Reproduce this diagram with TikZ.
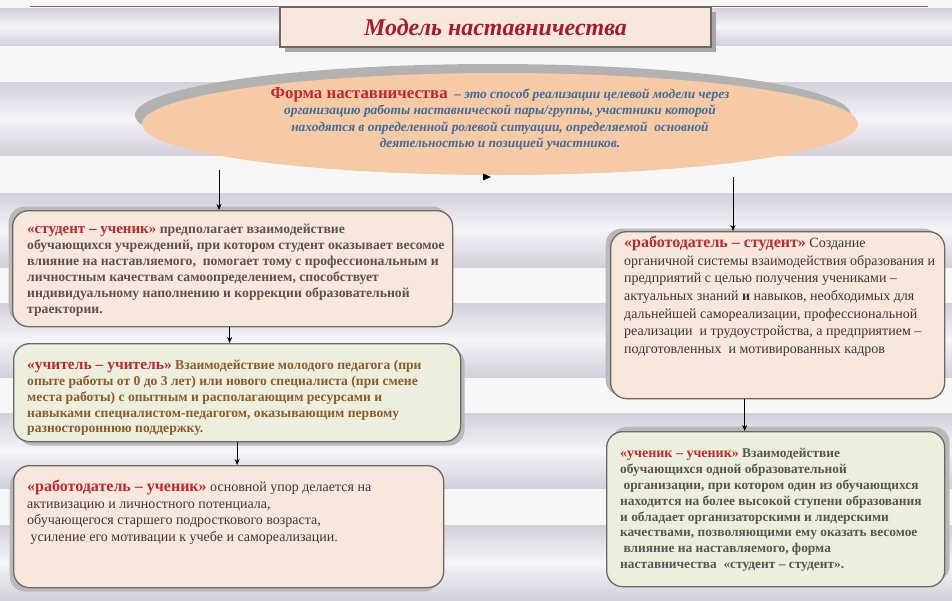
\documentclass[tikz,border=0pt]{standalone}
\usepackage{fontspec}
\setmainfont{Liberation Serif}
\usetikzlibrary{positioning,shadows,arrows.meta,shapes.geometric}

\definecolor{titlered}{HTML}{A61C2C}
\definecolor{keyred}{HTML}{C0282E}
\definecolor{boxpink}{HTML}{F8E7DC}
\definecolor{boxgreen}{HTML}{ECEFDD}
\definecolor{ovalpeach}{HTML}{F6CAA5}
\definecolor{formblue}{HTML}{3F6C9C}
\definecolor{frame}{HTML}{6E6863}
\definecolor{bandlav}{HTML}{D3CFDC}
\definecolor{bandlight}{HTML}{F5F4F8}
\definecolor{paper}{HTML}{F7F7F8}
\definecolor{textgrey}{HTML}{5B5352}
\definecolor{textbrown}{HTML}{8E5A2A}
\definecolor{textdark}{HTML}{3B3737}

\newcommand{\pair}[2][16]{{\color{keyred}\bfseries\fontsize{#1}{16.5}\selectfont #2}}

\tikzset{
  band/.style={top color=bandlav, bottom color=bandlav, middle color=bandlight},
  modelbox/.style={draw=frame, line width=1.3pt, rounded corners=16pt, inner sep=0pt, anchor=north west},
  boxtext/.style={align=left, inner sep=0pt, font=\fontsize{14}{16.5}\selectfont},
  arr/.style={-{Stealth[length=6pt,width=5pt]}, line width=0.8pt, black},
}

\begin{document}
\begin{tikzpicture}[x=1pt, y=-1pt]
    \useasboundingbox (0,0) rectangle (952,600);
    \fill[paper] (0,0) rectangle (952,600);

    % striped background
    \foreach \ytop/\ybot in {8/45, 82/155, 193/267, 303/377, 413/488, 525/600}
        \shade[band] (0,\ytop) rectangle (952,\ybot);
    \draw[color=titlered!30!gray, line width=1pt] (30,6) -- (928,6);

    % title
    \node[draw=frame, line width=1.2pt, fill=boxpink, minimum width=431pt, minimum height=40pt,
          drop shadow={shadow xshift=5pt, shadow yshift=-5pt, fill=gray!70, opacity=1},
          font=\fontsize{24}{26}\selectfont\bfseries\itshape, text=titlered] (title) at (495.5,27) {Модель наставничества};

    % form of mentoring
    \node[ellipse, fill=ovalpeach, minimum width=716pt, minimum height=102pt, inner sep=0pt,
          drop shadow={shadow xshift=-7pt, shadow yshift=9pt, fill=gray!60, opacity=1}] (form) at (500,124) {};
    \node[align=center, inner sep=0pt, text=formblue, font=\fontsize{13.4}{16.2}\selectfont\bfseries\itshape] (formtxt) at (500,119)
        {{\upshape\color{keyred}\fontsize{16.8}{16.2}\selectfont Форма наставничества} \ – это способ реализации целевой модели через\\
         организацию работы наставнической пары/группы, участники которой\\
         находятся в определенной ролевой ситуации, определяемой \ основной\\
         деятельностью и позицией участников.};
    \fill (483,173.5) -- (491,177) -- (483,180.5) -- cycle;

    % left column
    \node[modelbox, fill=boxpink, minimum width=440pt, minimum height=116pt,
          drop shadow={shadow xshift=-4pt, shadow yshift=4pt, fill=gray!55, opacity=1}] (stud) at (12,210) {};
    \node[boxtext, anchor=north west, text=textgrey, font=\fontsize{13.7}{16}\selectfont\bfseries,
          below right=14pt and 15pt of stud.north west] (studtxt)
        {\pair[15]{«студент – ученик»} предполагает взаимодействие\\
         обучающихся учреждений, при котором студент оказывает весомое\\
         влияние на наставляемого, \ помогает тому с профессиональным и\\
         личностным качествам самоопределением, способствует\\
         индивидуальному наполнению и коррекции образовательной\\
         траектории.};

    \node[modelbox, fill=boxgreen, minimum width=447pt, minimum height=98pt,
          drop shadow={shadow xshift=4pt, shadow yshift=-4pt, fill=gray!55, opacity=1}] (teach) at (13,343) {};
    \node[boxtext, anchor=north west, text=textbrown, font=\fontsize{13.6}{15.8}\selectfont\bfseries,
          below right=17pt and 14pt of teach.north west] (teachtxt)
        {\pair[15.5]{«учитель – учитель»} Взаимодействие молодого педагога (при\\
         опыте работы от 0 до 3 лет) или нового специалиста (при смене\\
         места работы) с опытным и располагающим ресурсами и\\
         навыками специалистом-педагогом, оказывающим первому\\
         разностороннюю поддержку.};

    \node[modelbox, fill=boxpink, minimum width=430pt, minimum height=122pt,
          drop shadow={shadow xshift=-4pt, shadow yshift=-4pt, fill=gray!55, opacity=1}] (emplL) at (13,465) {};
    \node[boxtext, anchor=north west, text=textdark,
          below right=15pt and 14pt of emplL.north west] (emplLtxt)
        {\pair{«работодатель – ученик»} основной упор делается на\\
         активизацию и личностного потенциала,\\
         обучающегося старшего подросткового возраста,\\
         \ усиление его мотивации к учебе и самореализации.};

    % right column
    \node[modelbox, fill=boxpink, minimum width=334pt, minimum height=167pt,
          drop shadow={shadow xshift=-5pt, shadow yshift=3pt, fill=gray!55, opacity=1}] (emplS) at (610,231) {};
    \node[boxtext, anchor=north west, text=textdark, font=\fontsize{14}{17.6}\selectfont,
          below right=5pt and 14pt of emplS.north west] (emplStxt)
        {\pair{«работодатель – студент»} Создание\\
         органичной системы взаимодействия образования и\\
         предприятий с целью получения учениками –\\
         актуальных знаний \textbf{и} навыков, необходимых для\\
         дальнейшей самореализации, профессиональной\\
         реализации \ и трудоустройства, а предприятием –\\
         подготовленных \ и мотивированных кадров};

    \node[modelbox, fill=boxgreen, minimum width=338pt, minimum height=155pt,
          drop shadow={shadow xshift=5pt, shadow yshift=5pt, fill=gray!55, opacity=1}] (pupil) at (606,431) {};
    \node[boxtext, anchor=north west, text=textgrey, font=\fontsize{13.4}{15.9}\selectfont\bfseries,
          below right=17pt and 14pt of pupil.north west] (pupiltxt)
        {\pair[14]{«ученик – ученик»} Взаимодействие\\
         обучающихся одной образовательной\\
         \ организации, при котором один из обучающихся\\
         находится на более высокой ступени образования\\
         и обладает организаторскими и лидерскими\\
         качествами, позволяющими ему оказать весомое\\
         \ влияние на наставляемого, форма\\
         наставничества \ «студент – студент».};

    % connectors
    \coordinate (formL) at (219,170);
    \coordinate (formR) at (733,177);
    \draw[arr] (formL) -- (formL |- stud.north);
    \draw[arr] (formR) -- (formR |- emplS.north);
    \draw[arr] ([xshift=-3pt]stud.south) -- ([xshift=-3pt]stud.south |- teach.north);
    \draw[arr] (teach.south) -- (teach.south |- emplL.north);
    \draw[arr] ([xshift=-33pt]emplS.south) -- ([xshift=-33pt]emplS.south |- pupil.north);
\end{tikzpicture}
\end{document}
